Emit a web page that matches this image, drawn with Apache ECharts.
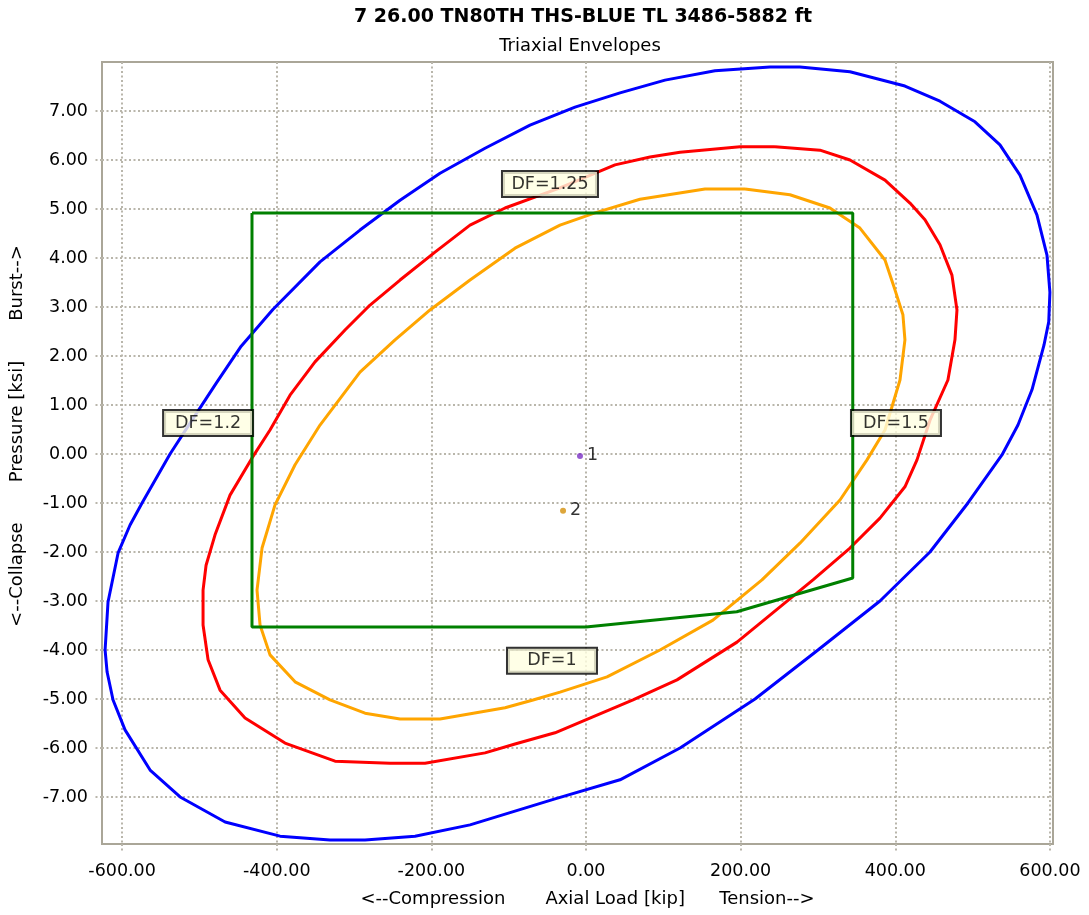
<!DOCTYPE html>
<html>
<head>
<meta charset="utf-8">
<script src="https://cdn.jsdelivr.net/npm/echarts@6/dist/echarts.min.js"></script>
<style>
html,body{margin:0;padding:0;background:#fff;}
#chart{width:1089px;height:915px;}
</style>
</head>
<body>
<div id="chart"></div>
<script>
// ---- data (kip, ksi) ----
const titleText = '7 26.00 TN80TH THS-BLUE TL 3486-5882 ft';
const subtitleText = 'Triaxial Envelopes';
const xTicks = [-600, -400, -200, 0, 200, 400, 600];
const yTicks = [-7, -6, -5, -4, -3, -2, -1, 0, 1, 2, 3, 4, 5, 6, 7];

const blueEnvelope = [
  [-622.0,-4.00],[-618.2,-3.02],[-605.2,-2.02],[-589.7,-1.45],[-574.2,-1.00],[-538.0,0.00],
  [-512.1,0.63],[-478.0,1.45],[-446.0,2.20],[-405.0,2.95],[-344.0,3.92],[-292.3,4.57],
  [-240.5,5.18],[-188.8,5.73],[-130.6,6.24],[-72.4,6.71],[-14.2,7.08],[44.0,7.37],
  [102.2,7.63],[166.8,7.82],[238.0,7.90],[276.7,7.90],[341.4,7.80],[412.5,7.51],
  [457.8,7.20],[503.1,6.78],[535.4,6.31],[561.3,5.69],[583.2,4.88],[596.2,4.06],
  [600.0,3.30],[598.5,2.70],[592.3,2.22],[576.8,1.31],[558.7,0.59],[538.0,-0.02],[494.0,-1.00],
  [444.9,-2.00],[380.2,-3.00],[300.0,-4.00],[218.6,-5.00],[121.6,-6.00],[44.0,-6.65],
  [-40.1,-7.04],[-150.0,-7.57],[-221.1,-7.80],[-285.8,-7.88],[-331.1,-7.88],[-395.7,-7.80],
  [-466.8,-7.51],[-525.0,-7.00],[-563.8,-6.45],[-596.2,-5.63],[-611.7,-5.02],[-619.4,-4.45],
  [-622.0,-4.00]
];

const redEnvelope = [
  [244.4,6.27],[199.2,6.27],[121.6,6.16],[82.8,6.06],[37.5,5.90],[-33.6,5.43],[-104.7,5.02],
  [-150.0,4.67],[-195.3,4.12],[-240.5,3.55],[-279.3,3.04],[-311.7,2.53],[-350.5,1.88],
  [-382.8,1.20],[-408.7,0.49],[-431.9,-0.08],[-460.4,-0.84],[-479.8,-1.65],[-491.4,-2.27],
  [-495.3,-2.78],[-495.3,-3.49],[-488.8,-4.20],[-473.3,-4.82],[-441.0,-5.39],[-389.3,-5.90],
  [-324.6,-6.27],[-253.5,-6.31],[-208.2,-6.31],[-130.6,-6.10],[-91.8,-5.92],[-40.1,-5.69],
  [60.8,-5.02],[117.7,-4.61],[195.3,-3.84],[293.6,-2.57],[341.4,-1.92],[380.2,-1.31],
  [412.5,-0.67],[428.1,-0.12],[444.9,0.69],[468.1,1.51],[477.2,2.33],[479.8,2.94],
  [473.3,3.65],[457.8,4.27],[438.4,4.78],[419.0,5.12],[386.7,5.59],[341.4,6.00],
  [302.6,6.20],[244.4,6.27]
];

const orangeEnvelope = [
  [205.6,5.41],[153.9,5.41],[69.8,5.20],[11.6,4.92],[-33.6,4.67],[-91.8,4.20],[-150.0,3.55],
  [-201.7,2.94],[-247.0,2.33],[-292.3,1.67],[-344.0,0.59],[-376.3,-0.22],[-402.2,-1.04],
  [-419.0,-1.92],[-425.5,-2.78],[-421.6,-3.49],[-408.7,-4.10],[-376.3,-4.65],[-331.1,-5.02],
  [-285.8,-5.29],[-240.5,-5.41],[-188.8,-5.41],[-104.7,-5.18],[-68.5,-5.02],[-33.6,-4.86],
  [27.2,-4.55],[95.7,-4.00],[164.2,-3.39],[227.6,-2.57],[276.7,-1.82],[328.5,-0.94],
  [363.4,-0.12],[386.7,0.49],[406.1,1.51],[412.5,2.33],[409.9,2.84],[399.6,3.35],
  [386.7,3.96],[354.3,4.61],[315.5,5.02],[263.8,5.29],[205.6,5.41]
];

const designLimit = [
  [-432,4.92],[345,4.92],[345,-2.53],[195,-3.22],[0,-3.53],[-432,-3.53],[-432,4.92]
];

const dfNames = ['DF=1.25', 'DF=1.2', 'DF=1.5', 'DF=1'];
const dfX = [-46.6, -488.8, 400.9, -44.0];
const dfY = [5.51, 0.63, 0.63, -4.22];

const loadNames = ['1', '2'];
const loadX = [-7.8, -29.7];
const loadY = [-0.04, -1.16];
const loadColors = ['#7a2fc4', '#d4900a'];

// ---- chart ----
const FONT = 'DejaVu Sans';
const gridColor = '#b9b6ab';
const chart = echarts.init(document.getElementById('chart'), null, {renderer: 'canvas'});

function envelope(data, color) {
  return {
    type: 'line', data: data, showSymbol: false, symbol: 'none', smooth: false,
    lineStyle: {color: color, width: 3}, itemStyle: {color: color}, silent: true, z: 2
  };
}

const option = {
  animation: false,
  backgroundColor: '#ffffff',
  graphic: [
    {type: 'text', x: 583, y: 17, z: 20,
     style: {text: titleText, fontFamily: FONT, fontSize: 19, fontWeight: 'bold', fill: '#000',
             align: 'center', verticalAlign: 'middle'}},
    {type: 'text', x: 580, y: 46, z: 20,
     style: {text: subtitleText, fontFamily: FONT, fontSize: 18, fill: '#000',
             align: 'center', verticalAlign: 'middle'}}
  ],
  grid: {left: 102, right: 36, top: 62, bottom: 71, show: true,
         borderColor: '#aaa698', borderWidth: 2, backgroundColor: 'transparent'},
  xAxis: {
    type: 'value', min: -626, max: 604,
    name: '<--Compression       Axial Load [kip]      Tension-->',
    nameLocation: 'middle', nameGap: 46,
    nameTextStyle: {fontFamily: FONT, fontSize: 18, color: '#000', padding: [0, 0, 0, 20]},
    axisLine: {show: false, onZero: false},
    axisTick: {show: true, length: 9, customValues: xTicks,
               lineStyle: {color: gridColor, width: 2, type: [2, 2.5]}},
    axisLabel: {customValues: xTicks, margin: 18, fontFamily: FONT, fontSize: 17.5, color: '#000',
                formatter: v => v.toFixed(2)},
    splitLine: {show: true, lineStyle: {color: gridColor, width: 2, type: [2, 2.5]}}
  },
  yAxis: {
    type: 'value', min: -7.96, max: 8.0,
    name: '<--Collapse       Pressure [ksi]       Burst-->',
    nameLocation: 'middle', nameGap: 76,
    nameTextStyle: {fontFamily: FONT, fontSize: 18, color: '#000', padding: [0, 0, 0, 34]},
    axisLine: {show: false, onZero: false},
    axisTick: {show: true, length: 9, customValues: yTicks,
               lineStyle: {color: gridColor, width: 2, type: [2, 2.5]}},
    axisLabel: {customValues: yTicks, margin: 14, fontFamily: FONT, fontSize: 17.5, color: '#000',
                formatter: v => v.toFixed(2)},
    splitLine: {show: true, lineStyle: {color: gridColor, width: 2, type: [2, 2.5]}}
  },
  series: [
    envelope(blueEnvelope, '#0000ff'),
    envelope(redEnvelope, '#ff0000'),
    envelope(orangeEnvelope, '#ffa500'),
    Object.assign(envelope(designLimit, '#008000'), {z: 3}),
    {
      type: 'scatter', z: 5, silent: true,
      data: loadNames.map((n, i) => ({name: n, value: [loadX[i], loadY[i]],
                                       itemStyle: {color: loadColors[i]}})),
      symbol: 'circle', symbolSize: 6,
      label: {show: true, position: 'right', distance: 4, formatter: p => p.name,
              fontFamily: FONT, fontSize: 17.5, color: '#000'}
    },
    {
      type: 'scatter', z: 10, silent: true, symbolSize: 0,
      data: dfNames.map((n, i) => ({name: n, value: [dfX[i], dfY[i]],
        label: {width: n.length > 6 ? 78 : 72}})),
      label: {show: true, position: 'inside', formatter: p => p.name, align: 'center',
              fontFamily: FONT, fontSize: 17.5, color: '#000', lineHeight: 21,
              backgroundColor: '#ffffe1', borderColor: '#000', borderWidth: 2,
              padding: [2, 8, 1, 8]}
    }
  ]
};
chart.setOption(option);
</script>
</body>
</html>
